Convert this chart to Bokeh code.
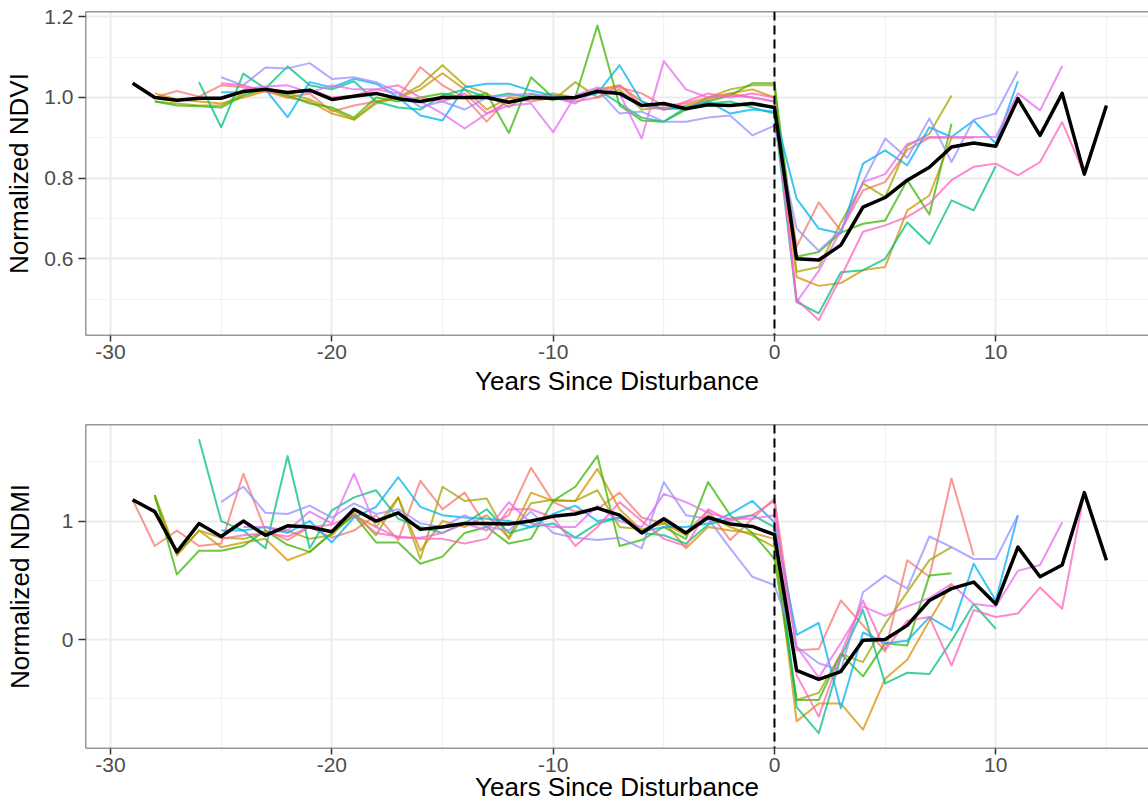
from bokeh.plotting import figure
from bokeh.layouts import column
from bokeh.models import FixedTicker, PrintfTickFormatter, Span, Range1d
from bokeh.embed import file_html
from bokeh.resources import INLINE

# ---------------- data ----------------
site_colors = ["#F8766D", "#D89000", "#A3A500", "#39B600", "#00BF7D",
               "#00B0F6", "#9590FF", "#E76BF3", "#FF62BC"]
site_first_year = [-29, -28, -28, -28, -26, -25, -25, -24, -25]

mean_first_year = -29
ndvi_mean = [1.035, 1.0, 0.993, 0.998, 0.998, 1.015, 1.02, 1.012, 1.018, 0.995,
             1.003, 1.01, 0.997, 0.99, 1.0, 1.0, 1.0, 0.988, 1.0, 0.998,
             1.0, 1.015, 1.01, 0.98, 0.985, 0.972, 0.982, 0.98, 0.985, 0.975,
             0.60, 0.597, 0.634, 0.728, 0.752, 0.795, 0.827, 0.877, 0.887, 0.879,
             0.997, 0.906, 1.01, 0.81, 0.98]
ndmi_mean = [1.18, 1.08, 0.74, 0.98, 0.87, 1.0, 0.88, 0.96, 0.95, 0.91,
             1.10, 1.0, 1.07, 0.93, 0.95, 0.98, 0.98, 0.975, 1.0, 1.04,
             1.06, 1.11, 1.05, 0.90, 1.02, 0.90, 1.03, 0.975, 0.955, 0.885,
             -0.26, -0.335, -0.27, -0.005, 0.0, 0.12, 0.33, 0.43, 0.485, 0.30,
             0.78, 0.53, 0.63, 1.24, 0.67]

ndvi_salmon = [1.035, 1.0, 1.016, 1.002, 1.03, 1.025, 1.02, 1.0, 1.01, 0.965,
               0.98, 0.99, 1.0, 1.075, 1.03, 1.0, 0.94, 1.0, 0.99, 1.0,
               0.995, 1.02, 1.025, 1.01, 0.98, 0.985, 1.0, 1.01, 1.0, 0.99,
               0.63, 0.74, 0.67, 0.77, 0.79, 0.87, 0.9, 0.9, 0.9]
ndvi_orange = [1.01, 0.995, 0.99, 0.985, 1.0, 1.015, 1.0, 0.99, 0.96, 0.945,
               0.99, 1.0, 1.02, 1.06, 1.02, 0.97, 1.0, 1.0, 1.01, 1.0,
               1.02, 1.03, 0.99, 0.97, 0.98, 0.995, 1.01, 1.02, 1.0,
               0.555, 0.533, 0.54, 0.572, 0.58, 0.72, 0.757, 0.9]
ndvi_olive = [0.99, 0.985, 0.98, 0.98, 1.01, 1.025, 1.01, 0.995, 0.97, 0.945,
              0.985, 1.0, 1.03, 1.08, 1.03, 1.01, 0.976, 1.009, 0.993, 1.038,
              1.0, 1.02, 0.97, 0.975, 0.97, 1.0, 1.02, 1.03, 1.03,
              0.568, 0.58, 0.69, 0.787, 0.753, 0.88, 0.91, 1.005]
ndvi_green = [0.99, 0.98, 0.978, 0.975, 1.005, 1.02, 1.005, 0.985, 0.975, 0.95,
              1.0, 0.99, 1.0, 1.01, 1.0, 1.01, 0.912, 1.05, 1.0, 1.0,
              1.178, 0.98, 0.943, 0.94, 0.97, 0.99, 1.005, 1.035, 1.035,
              0.605, 0.617, 0.665, 0.687, 0.695, 0.795, 0.71, 0.935]
ndvi_teal = [1.038, 0.926, 1.059, 1.022, 1.077, 1.03, 1.02, 1.04, 0.99, 0.975,
             0.97, 1.005, 1.02, 1.0, 1.01, 1.0, 0.995, 1.0, 1.02, 0.985,
             0.95, 0.94, 0.975, 0.985, 0.99, 0.975, 0.96,
             0.493, 0.465, 0.567, 0.572, 0.6, 0.69, 0.637, 0.745, 0.72, 0.83]
ndvi_blue = [1.013, 1.013, 1.02, 0.951, 1.038, 1.025, 1.046, 1.034, 1.0, 0.955,
             0.943, 1.025, 1.034, 1.034, 1.017, 1.005, 1.0, 1.01, 1.08, 0.99,
             0.97, 0.975, 0.99, 0.96, 0.97, 0.965,
             0.749, 0.675, 0.663, 0.836, 0.869, 0.832, 0.926, 0.902, 0.943, 0.886, 1.04]
ndvi_lavender = [1.05, 1.03, 1.074, 1.072, 1.085, 1.046, 1.05, 1.038, 1.013, 0.976,
                 0.99, 0.97, 1.0, 1.005, 1.01, 1.0, 0.985, 1.02, 0.96, 0.965,
                 0.94, 0.94, 0.95, 0.955, 0.906, 0.93,
                 0.675, 0.62, 0.67, 0.79, 0.898, 0.85, 0.948, 0.84, 0.945, 0.96, 1.065]
ndvi_magenta = [1.02, 1.027, 1.03, 1.012, 1.03, 1.02, 1.02, 1.01, 0.99, 0.96,
                0.923, 0.96, 0.98, 0.985, 0.914, 1.005, 1.025, 1.01, 0.898, 1.09,
                1.02, 1.0, 1.005, 1.0, 0.99,
                0.493, 0.57, 0.67, 0.79, 0.81, 0.885, 0.902, 0.902, 0.902, 0.902,
                1.01, 0.968, 1.078]
ndvi_pink = [1.035, 1.03, 1.015, 1.01, 1.02, 1.0, 1.005, 1.02, 1.03, 1.0,
             0.99, 1.01, 0.96, 0.99, 1.0, 1.0, 0.99, 1.0, 1.03, 0.98,
             0.97, 0.99, 1.01, 1.0, 1.01, 1.0,
             0.5, 0.448, 0.555, 0.667, 0.683, 0.704, 0.737, 0.795, 0.828, 0.836,
             0.807, 0.84, 0.939, 0.81, 0.978]

ndmi_salmon = [1.18, 0.79, 0.92, 0.79, 0.81, 1.40, 0.92, 0.84, 0.95, 0.86,
               0.92, 1.05, 0.84, 1.34, 1.1, 1.24, 0.95, 1.05, 1.45, 1.16,
               1.08, 1.1, 1.24, 1.03, 0.98, 0.9, 1.09, 0.84, 1.02, 1.19,
               -0.09, -0.08, 0.33, 0.12, -0.1, 0.67, 0.53, 1.36, 0.71]
ndmi_orange = [1.2, 0.71, 0.92, 0.78, 0.82, 0.85, 0.67, 0.74, 0.9, 1.05,
               0.95, 1.2, 0.75, 1.0, 0.95, 1.05, 0.86, 1.24, 1.17, 1.17,
               1.44, 1.1, 0.92, 1.0, 0.77, 0.95, 0.92, 0.9, 0.85,
               -0.69, -0.54, -0.54, -0.76, -0.33, -0.17, 0.16, 0.47]
ndmi_olive = [1.22, 0.72, 0.92, 0.86, 0.85, 0.9, 0.92, 0.85, 0.88, 1.07,
              0.88, 1.2, 0.68, 1.29, 1.17, 1.19, 0.85, 1.15, 1.18, 1.17,
              1.26, 0.95, 0.93, 0.98, 0.88, 1.05, 0.95, 0.88, 0.78,
              -0.51, -0.45, -0.12, -0.19, 0.13, 0.4, 0.67, 0.78]
ndmi_green = [1.22, 0.55, 0.75, 0.75, 0.79, 0.92, 0.8, 0.74, 0.9, 1.05,
              0.82, 0.82, 0.64, 0.7, 0.9, 0.95, 0.81, 0.85, 1.17, 1.29,
              1.55, 0.79, 0.84, 0.95, 0.85, 1.33, 1.05, 0.9, 0.68,
              -0.51, -0.51, -0.12, -0.31, -0.03, -0.05, 0.54, 0.56]
ndmi_teal = [1.69, 1.0, 0.92, 0.77, 1.55, 0.77, 1.09, 1.2, 1.26, 1.02,
             0.95, 0.9, 0.98, 1.1, 0.9, 0.95, 0.98, 0.86, 0.98, 1.03,
             0.9, 0.88, 0.81, 0.97, 1.02, 1.05, 0.95,
             -0.57, -0.79, -0.15, 0.25, -0.37, -0.28, -0.29, -0.01, 0.3, 0.09]
ndmi_blue = [0.92, 0.92, 0.95, 0.9, 1.0, 0.82, 1.03, 1.12, 1.37, 1.12,
             1.05, 1.03, 1.02, 1.0, 0.95, 1.06, 1.13, 1.0, 1.03, 0.91,
             0.95, 0.95, 0.98, 1.06, 1.17, 0.99,
             0.04, 0.14, -0.58, 0.06, -0.03, -0.01, 0.19, 0.08, 0.64, 0.33, 1.05]
ndmi_lavender = [1.16, 1.29, 1.07, 1.06, 1.13, 1.03, 1.15, 1.06, 1.1, 0.98,
                 0.95, 1.05, 0.95, 0.92, 1.08, 0.9, 0.86, 0.84, 0.86, 0.77,
                 1.33, 1.05, 1.02, 0.77, 0.53, 0.46,
                 -0.06, -0.2, -0.26, 0.4, 0.54, 0.43, 0.87, 0.78, 0.68, 0.68, 1.05]
ndmi_magenta = [0.95, 0.95, 0.92, 1.08, 0.98, 1.4, 0.95, 0.86, 0.86, 0.9,
                0.98, 0.92, 1.16, 0.98, 0.95, 0.95, 1.13, 1.0, 0.95, 1.23,
                1.16, 1.07, 1.02, 1.02, 1.05,
                -0.06, -0.32, -0.03, 0.28, 0.2, 0.28, 0.35, 0.47, 0.3, 0.28,
                0.58, 0.63, 0.99]
ndmi_pink = [0.85, 0.88, 0.9, 0.87, 0.95, 0.97, 1.05, 0.9, 0.87, 0.85,
             0.85, 0.81, 0.85, 1.1, 1.1, 1.03, 0.79, 0.95, 1.16, 1.0,
             0.85, 0.79, 1.1, 1.0, 1.05, 1.17,
             -0.3, -0.65, -0.12, 0.33, -0.09, 0.16, 0.19, -0.22, 0.25, 0.19,
             0.22, 0.44, 0.26, 1.24, 0.67]

ndvi_sites = [ndvi_salmon, ndvi_orange, ndvi_olive, ndvi_green, ndvi_teal,
              ndvi_blue, ndvi_lavender, ndvi_magenta, ndvi_pink]
ndmi_sites = [ndmi_salmon, ndmi_orange, ndmi_olive, ndmi_green, ndmi_teal,
              ndmi_blue, ndmi_lavender, ndmi_magenta, ndmi_pink]

x_major = [-30, -20, -10, 0, 10]
x_minor = [-25, -15, -5, 5, 15]
ndvi_major = [0.6, 0.8, 1.0, 1.2]
ndvi_minor = [0.5, 0.7, 0.9, 1.1]
ndmi_major = [0, 1]
ndmi_minor = [-0.5, 0.5, 1.5]

FONT = "Liberation Sans"
W = 1148
X_LO, X_HI = -31.13, 16.9


def make_panel(height, border_top, border_bottom, yrange, sites, mean,
               ymaj, ymin, yfmt, ylabel, ylab_standoff, xlab_standoff):
    p = figure(width=W, height=height, output_backend="svg", toolbar_location=None,
               x_range=Range1d(X_LO, X_HI), y_range=Range1d(*yrange),
               min_border_left=85, min_border_right=0,
               min_border_top=border_top, min_border_bottom=border_bottom)
    p.background_fill_color = "white"
    p.border_fill_color = "white"
    p.outline_line_color = None

    xt = FixedTicker(ticks=x_major, minor_ticks=x_minor)
    yt = FixedTicker(ticks=ymaj, minor_ticks=ymin)
    p.xaxis.ticker = xt
    p.yaxis.ticker = yt
    p.xgrid.ticker = xt
    p.ygrid.ticker = yt
    p.xaxis.formatter = PrintfTickFormatter(format="%d")
    p.yaxis.formatter = PrintfTickFormatter(format=yfmt)

    for g in (p.xgrid, p.ygrid):
        g.grid_line_color = "#EBEBEB"
        g.grid_line_width = 2
        g.minor_grid_line_color = "#F2F2F2"
        g.minor_grid_line_width = 1.2

    for ax in (p.xaxis, p.yaxis):
        ax.axis_line_color = None
        ax.major_tick_line_color = "#333333"
        ax.major_tick_line_width = 1.5
        ax.major_tick_in = 0
        ax.minor_tick_line_color = None
        ax.major_label_text_font = FONT
        ax.major_label_text_font_size = "21px"
        ax.major_label_text_color = "#4D4D4D"
        ax.axis_label_text_font = FONT
        ax.axis_label_text_font_size = "26px"
        ax.axis_label_text_font_style = "normal"
        ax.axis_label_text_color = "black"
    p.xaxis.major_tick_out = 6
    p.yaxis.major_tick_out = 7
    p.xaxis.major_label_standoff = 3
    p.yaxis.major_label_standoff = 5
    p.xaxis.axis_label = "Years Since Disturbance"
    p.yaxis.axis_label = ylabel
    p.xaxis.axis_label_standoff = xlab_standoff
    p.yaxis.axis_label_standoff = ylab_standoff

    for vals, first, col in zip(sites, site_first_year, site_colors):
        xs = list(range(first, first + len(vals)))
        p.line(xs, vals, line_color=col, line_width=2, line_alpha=0.75,
               line_join="round")
    mx = list(range(mean_first_year, mean_first_year + len(mean)))
    p.line(mx, mean, line_color="black", line_width=3.5, line_join="round")

    p.add_layout(Span(location=0, dimension="height", line_color="black",
                      line_width=2, line_dash="9 5"))
    # panel border: top, bottom and left (the right edge lies outside the picture)
    for loc, dim in ((yrange[1], "width"), (yrange[0], "width"), (X_LO, "height")):
        p.add_layout(Span(location=loc, dimension=dim, line_color="#333333",
                          line_width=1.5))
    return p


top = make_panel(412, 11, 77, (0.410, 1.213), ndvi_sites, ndvi_mean,
                 ndvi_major, ndvi_minor, "%.1f", "Normalized NDVI", 7, 4)
bottom = make_panel(398, 12, 62, (-0.919, 1.815), ndmi_sites, ndmi_mean,
                    ndmi_major, ndmi_minor, "%d", "Normalized NDMI", 24, -3)

layout = column(top, bottom, spacing=0)
open("out.html", "w").write(file_html(layout, INLINE))
